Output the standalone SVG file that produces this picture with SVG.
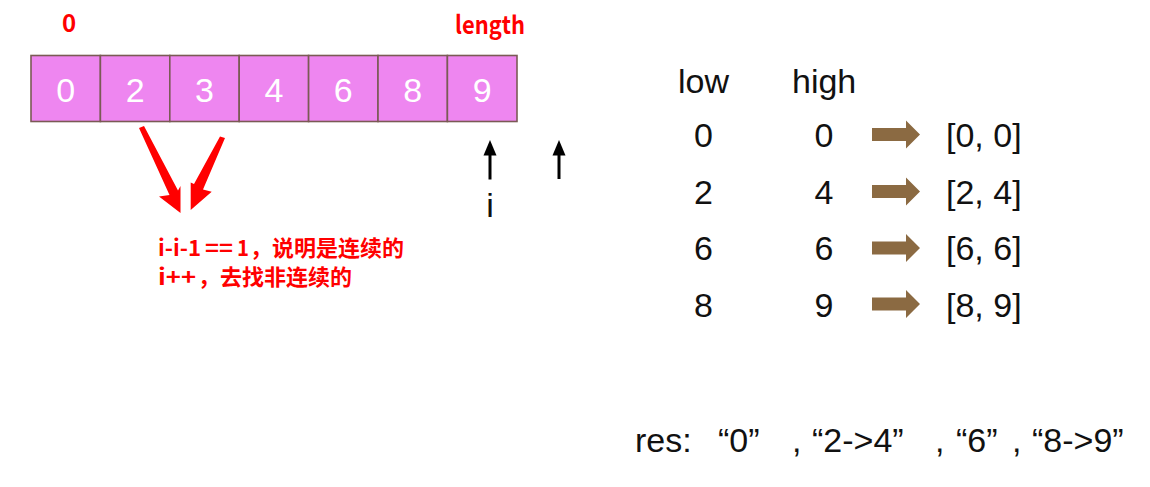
<svg xmlns="http://www.w3.org/2000/svg" width="1150" height="487" viewBox="0 0 1150 487">
<style>
.cell{fill:#EE86F0;stroke:#7a5a55;stroke-width:1.6}
.dig{font-family:"Liberation Sans",Arial,sans-serif;font-size:34px;fill:#ffffff;text-anchor:middle}
.red{font-family:"Noto Sans CJK SC","Liberation Sans",sans-serif;font-weight:bold;fill:#ff0000}
.cn{font-family:"Noto Sans CJK SC",sans-serif;font-weight:bold;font-size:22px;fill:#ff0000}
.blk{font-family:"Liberation Sans",Arial,sans-serif;font-size:34px;fill:#111111}
.mid{text-anchor:middle}
.brown{fill:#8B6A42}
.redarrow{fill:#ff0000}
.blkarrow{fill:#000000}
.shaft{stroke:#000000;stroke-width:3}
</style>
<rect width="1150" height="487" fill="#ffffff"/>
<g id="array">
<rect class="cell" x="31" y="55.5" width="69.4" height="66"/>
<rect class="cell" x="100.4" y="55.5" width="69.4" height="66"/>
<rect class="cell" x="169.8" y="55.5" width="69.4" height="66"/>
<rect class="cell" x="239.2" y="55.5" width="69.4" height="66"/>
<rect class="cell" x="308.6" y="55.5" width="69.4" height="66"/>
<rect class="cell" x="378" y="55.5" width="69.4" height="66"/>
<rect class="cell" x="447.4" y="55.5" width="69.6" height="66"/>
<text class="dig" x="65.7" y="101.5">0</text>
<text class="dig" x="135.1" y="101.5">2</text>
<text class="dig" x="204.5" y="101.5">3</text>
<text class="dig" x="273.9" y="101.5">4</text>
<text class="dig" x="343.3" y="101.5">6</text>
<text class="dig" x="412.7" y="101.5">8</text>
<text class="dig" x="482.2" y="101.5">9</text>
</g>
<g id="label-zero"><text class="red mid" x="69" y="32" font-size="24">0</text></g>
<g id="label-length"><text class="red" x="455" y="34" font-size="25" textLength="70" lengthAdjust="spacingAndGlyphs">length</text></g>
<g id="note">
<text class="cn" y="256"><tspan x="158" textLength="43" lengthAdjust="spacingAndGlyphs">i-i-1</tspan><tspan x="205" textLength="28" lengthAdjust="spacingAndGlyphs">==</tspan><tspan x="237" textLength="12" lengthAdjust="spacingAndGlyphs">1</tspan><tspan x="250">，说明是连续的</tspan></text>
<text class="cn" y="285"><tspan x="158" textLength="38" lengthAdjust="spacingAndGlyphs">i++</tspan><tspan x="198">，去找非连续的</tspan></text>
</g>
<g id="label-i"><text class="blk mid" x="490" y="217">i</text></g>
<g id="table">
<text class="blk" x="678" y="93">low</text>
<text class="blk" x="792" y="93">high</text>
<text class="blk mid" x="703.5" y="147">0</text>
<text class="blk mid" x="824" y="147">0</text>
<text class="blk" x="946" y="147">[0, 0]</text>
<text class="blk mid" x="703.5" y="204">2</text>
<text class="blk mid" x="824" y="204">4</text>
<text class="blk" x="946" y="204">[2, 4]</text>
<text class="blk mid" x="703.5" y="260">6</text>
<text class="blk mid" x="824" y="260">6</text>
<text class="blk" x="946" y="260">[6, 6]</text>
<text class="blk mid" x="703.5" y="316.5">8</text>
<text class="blk mid" x="824" y="316.5">9</text>
<text class="blk" x="946" y="316.5">[8, 9]</text>
</g>
<g id="result">
<text class="blk" x="635" y="452">res:</text>
<text class="blk" x="718" y="452">“0”</text>
<text class="blk" x="792" y="452">,</text>
<text class="blk" x="812" y="452">“2-&gt;4”</text>
<text class="blk" x="935" y="452">,</text>
<text class="blk" x="956" y="452">“6”</text>
<text class="blk" x="1012" y="452">,</text>
<text class="blk" x="1032" y="452">“8-&gt;9”</text>
</g>
<g id="connectors">
<polygon class="redarrow" points="139,128 169.5,195 159,196.5 180.5,213 180.5,186 178,190.5 144,126"/>
<polygon class="redarrow" points="220,136.5 194,184 190.7,182.5 190.7,210 211.7,191.7 203,189.5 225,138"/>
<line class="shaft" x1="490" y1="179.5" x2="490" y2="152"/>
<polygon class="blkarrow" points="483.5,155.5 490,140 496.5,155.5"/>
<line class="shaft" x1="559" y1="179" x2="559" y2="152"/>
<polygon class="blkarrow" points="552.5,155.5 559,140 565.5,155.5"/>
<polygon class="brown" points="872,128 906,128 906,120.5 920,134.5 906,148.5 906,141 872,141"/>
<polygon class="brown" points="872,185 906,185 906,177.5 920,191.5 906,205.5 906,198 872,198"/>
<polygon class="brown" points="872,241.5 906,241.5 906,234 920,248 906,262 906,254.5 872,254.5"/>
<polygon class="brown" points="872,297.5 906,297.5 906,290 920,304 906,318 906,310.5 872,310.5"/>
</g>
</svg>
